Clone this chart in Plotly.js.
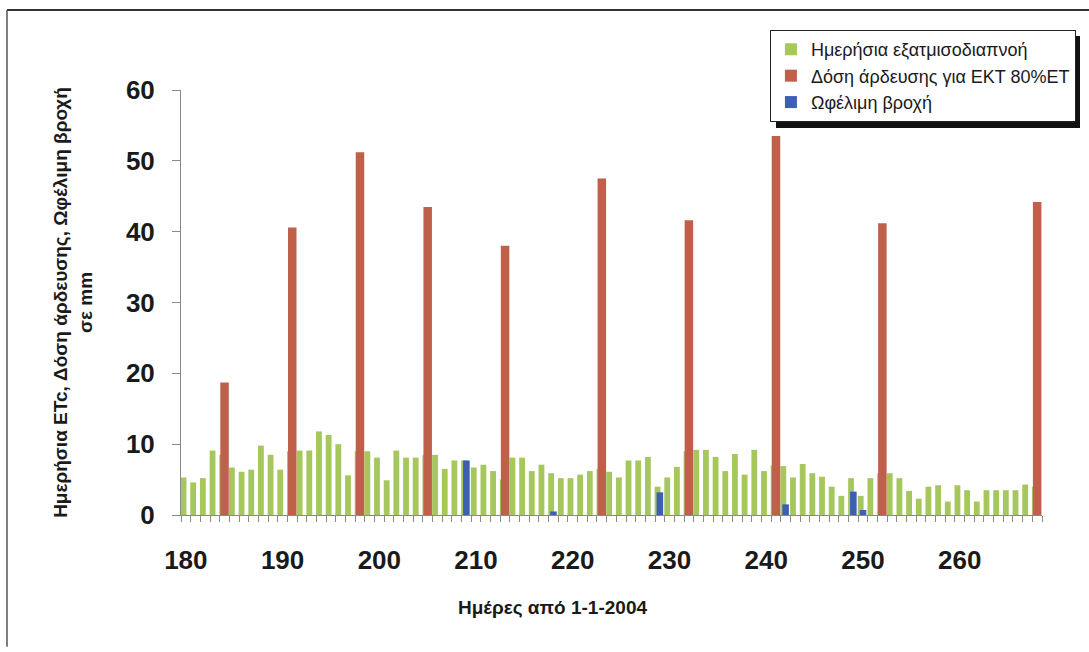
<!DOCTYPE html>
<html>
<head>
<meta charset="utf-8">
<script src="https://cdn.plot.ly/plotly-3.0.1.min.js"></script>
<style>
  html, body { margin: 0; padding: 0; background: #ffffff; }
  #chart { width: 1089px; height: 652px; }
</style>
</head>
<body>
<div id="chart"></div>
<script>
// Days since 1-1-2004 (category positions)
const days = [];
for (let d = 180; d <= 268; d++) days.push(d);

// Daily evapotranspiration (mm), one value per day 180..268
const etValues = [
  5.3, 4.6, 5.2, 9.1, 8.5, 6.7, 6.1, 6.4, 9.8, 8.5,   // 180-189
  6.4, 9.0, 9.1, 9.1, 11.8, 11.3, 10.0, 5.6, 9.0, 9.0, // 190-199
  8.1, 4.9, 9.1, 8.1, 8.1, 8.5, 8.5, 6.5, 7.7, 7.7,   // 200-209
  6.7, 7.1, 6.2, 5.0, 8.1, 8.1, 6.2, 7.1, 5.9, 5.2,   // 210-219
  5.2, 5.7, 6.2, 6.5, 6.1, 5.3, 7.7, 7.7, 8.2, 4.0,   // 220-229
  5.3, 6.8, 9.0, 9.2, 9.2, 8.2, 6.2, 8.6, 5.7, 9.2,   // 230-239
  6.2, 7.0, 6.9, 5.3, 7.2, 5.9, 5.4, 4.0, 2.7, 5.2,   // 240-249
  2.7, 5.2, 5.9, 5.9, 5.2, 3.4, 2.3, 4.0, 4.2, 1.9,   // 250-259
  4.2, 3.5, 1.9, 3.5, 3.5, 3.5, 3.5, 4.3, 4.0         // 260-268
];

// Irrigation doses for ECT 80% ET (mm)
const irrigationDays = [184, 191, 198, 205, 213, 223, 232, 241, 252, 268];
const irrigationValues = [18.7, 40.6, 51.2, 43.5, 38.0, 47.5, 41.6, 53.5, 41.2, 44.2];

// Effective rainfall (mm)
const rainDays = [209, 218, 229, 242, 249, 250];
const rainValues = [7.7, 0.5, 3.2, 1.5, 3.3, 0.7];

// Axis tick labels
const xTickValues = [180, 190, 200, 210, 220, 230, 240, 250, 260];
const xTickLabels = ['180', '190', '200', '210', '220', '230', '240', '250', '260'];

const seriesNames = [
  'Ημερήσια εξατμισοδιαπνοή',
  'Δόση άρδευσης για ΕΚΤ 80%ΕΤ',
  'Ωφέλιμη βροχή'
];

const FONT = 'Liberation Sans, Arial, Helvetica, sans-serif';

const traces = [
  {
    type: 'bar', name: seriesNames[0], x: days, y: etValues,
    width: 0.6, offset: -0.54, opacity: 1,
    marker: { color: '#a5c75b', line: { width: 0 } }
  },
  {
    type: 'bar', name: seriesNames[1], x: irrigationDays, y: irrigationValues,
    width: 0.88, offset: -0.44, opacity: 1,
    marker: { color: '#bf604b', line: { width: 0 } }
  },
  {
    type: 'bar', name: seriesNames[2], x: rainDays, y: rainValues,
    width: 0.68, offset: -0.34, opacity: 1,
    marker: { color: '#3c5eb3', line: { width: 0 } }
  }
];

const layout = {
  width: 1089, height: 652,
  margin: { l: 181, r: 47, t: 90, b: 137, pad: 0 },
  paper_bgcolor: '#ffffff', plot_bgcolor: '#ffffff',
  barmode: 'overlay',
  showlegend: true,
  font: { family: FONT, color: '#1a1a1a' },
  xaxis: {
    range: [179.5, 268.5],
    tickmode: 'array', tickvals: xTickValues, ticktext: xTickLabels,
    ticks: '', ticklabelstandoff: 22,
    tickfont: { family: FONT, size: 26, weight: 'bold', color: '#1a1a1a' },
    showline: true, linecolor: '#8a8a8a', linewidth: 1,
    showgrid: false, zeroline: false, automargin: false,
    minor: { ticks: 'outside', tick0: 179.5, dtick: 1, ticklen: 6, tickcolor: '#8a8a8a', tickwidth: 1, showgrid: false }
  },
  yaxis: {
    range: [0, 60], dtick: 10, tick0: 0,
    ticks: 'outside', ticklen: 8, tickcolor: '#8a8a8a', tickwidth: 1,
    ticklabelstandoff: 12,
    tickfont: { family: FONT, size: 26, weight: 'bold', color: '#1a1a1a' },
    showline: true, linecolor: '#8a8a8a', linewidth: 1,
    showgrid: false, zeroline: false, automargin: false,
    title: {
      text: 'Ημερήσια ETc, Δόση άρδευσης, Ωφέλιμη βροχή<br>σε mm',
      font: { family: FONT, size: 19, weight: 'bold', color: '#1a1a1a' },
      standoff: 28
    }
  },
  legend: {
    x: 0.684, y: 1.141, xanchor: 'left', yanchor: 'top',
    bgcolor: '#ffffff', bordercolor: '#222222', borderwidth: 1,
    font: { family: FONT, size: 18, color: '#1a1a1a' },
    traceorder: 'normal', tracegroupgap: 0
  },
  annotations: [
    {
      xref: 'paper', yref: 'paper', x: 0.431, y: -0.2165,
      xanchor: 'center', yanchor: 'middle', showarrow: false,
      text: 'Ημέρες από 1-1-2004',
      font: { family: FONT, size: 19, weight: 'bold', color: '#1a1a1a' }
    }
  ],
  shapes: [
    // outer frame: top and left edges
    { type: 'line', xref: 'paper', yref: 'paper', x0: -0.2021, x1: 1.06, y0: 1.188, y1: 1.188,
      line: { color: '#333333', width: 2 }, layer: 'below' },
    { type: 'line', xref: 'paper', yref: 'paper', x0: -0.2021, x1: -0.2021, y0: 1.188, y1: -0.31,
      line: { color: '#555555', width: 1.5 }, layer: 'below' },
    // legend drop shadow
    { type: 'rect', xref: 'paper', yref: 'paper',
      x0: (776 - 181) / 861, x1: (1080 - 181) / 861,
      y0: (515 - 128) / 425, y1: (515 - 36) / 425,
      fillcolor: '#111111', line: { width: 0 }, layer: 'above' }
  ]
};

Plotly.newPlot('chart', traces, layout, { displayModeBar: false, staticPlot: true });
</script>
</body>
</html>
